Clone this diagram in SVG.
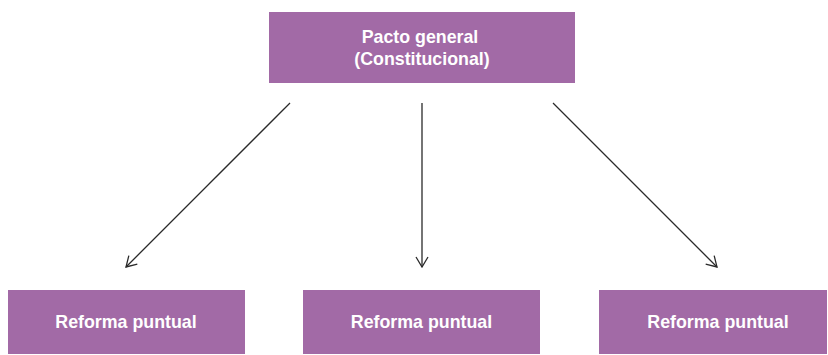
<svg xmlns="http://www.w3.org/2000/svg" width="828" height="355" viewBox="0 0 828 355">
<defs>
<style>
.box{fill:#A26AA6;}
.lbl{font-family:"Liberation Sans",Arial,sans-serif;font-weight:bold;font-size:17.8px;fill:#ffffff;text-anchor:middle;}
.conn{stroke:#2a2a2a;stroke-width:1.3;fill:none;marker-end:url(#ah);}
</style>
<marker id="ah" viewBox="0 0 12 14" refX="11" refY="7" markerWidth="12" markerHeight="14" markerUnits="userSpaceOnUse" orient="auto">
<path d="M1,1 L11,7 L1,13" fill="none" stroke="#2a2a2a" stroke-width="1.3"/>
</marker>
</defs>
<rect width="828" height="355" fill="#ffffff"/>
<g id="connectors">
<line class="conn" x1="290" y1="103" x2="126" y2="267"/>
<line class="conn" x1="422" y1="103" x2="422" y2="267"/>
<line class="conn" x1="553" y1="103" x2="717" y2="267"/>
</g>
<g id="pacto">
<rect class="box" x="269" y="12" width="306" height="71"/>
<text class="lbl" x="420" y="43">Pacto general</text>
<text class="lbl" x="422" y="65">(Constitucional)</text>
</g>
<g id="reforma1">
<rect class="box" x="8" y="290" width="237" height="64"/>
<text class="lbl" x="126" y="328">Reforma puntual</text>
</g>
<g id="reforma2">
<rect class="box" x="303" y="290" width="237" height="64"/>
<text class="lbl" x="421.5" y="328">Reforma puntual</text>
</g>
<g id="reforma3">
<rect class="box" x="599" y="290" width="228" height="64"/>
<text class="lbl" x="718" y="328">Reforma puntual</text>
</g>
</svg>
